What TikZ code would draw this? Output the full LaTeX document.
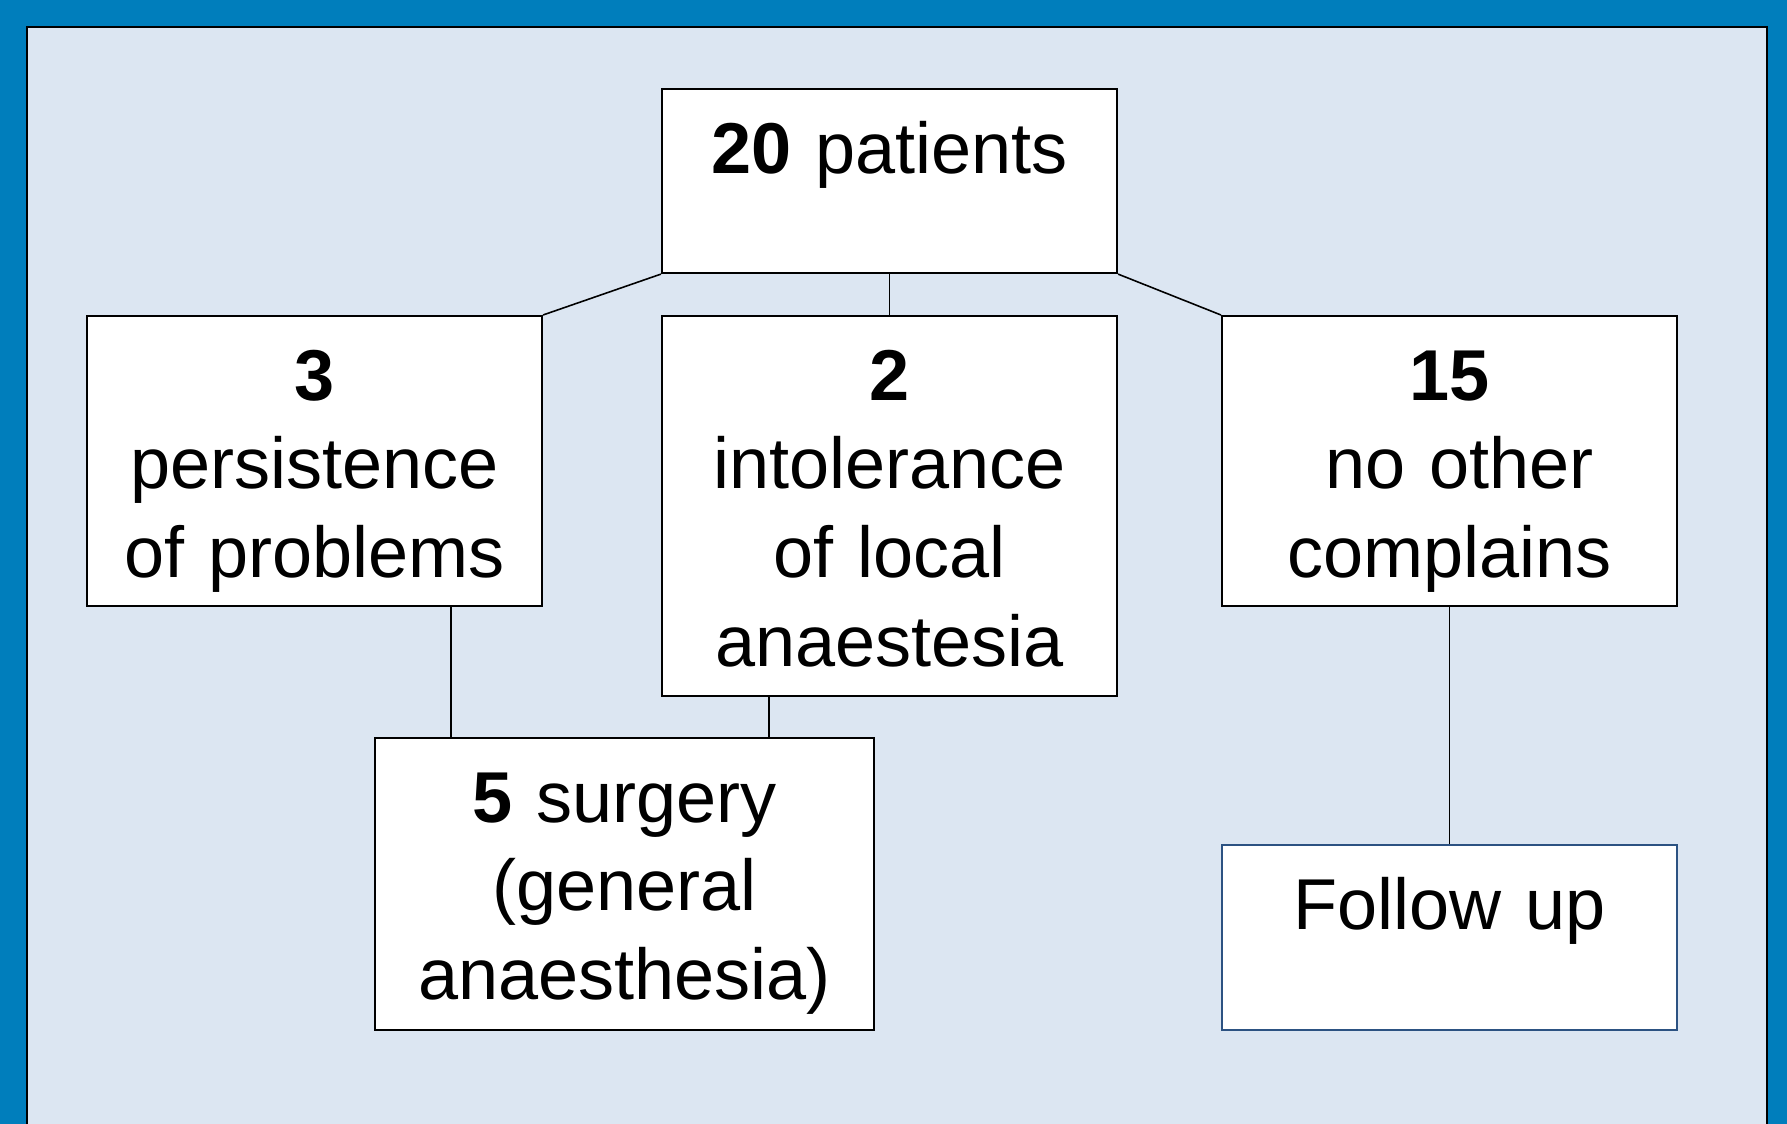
\documentclass[tikz,border=0pt]{standalone}
\usepackage{fontspec}
\setmainfont{Liberation Sans}
\definecolor{frameblue}{RGB}{0,126,188}
\definecolor{panelblue}{RGB}{220,230,242}
\definecolor{outlineblue}{RGB}{44,82,130}
\tikzset{
 box/.style={draw=black,line width=0.6pt,fill=white,inner sep=0pt,anchor=north,
   minimum width=4.55cm,text width=4.55cm,align=center,text height=0.84cm,
   font=\fontsize{20.5}{25.3}\selectfont},
 link/.style={draw=black,line width=0.45pt}
}
\begin{document}
\begin{tikzpicture}
 \useasboundingbox (0,0) rectangle (17.87,-11.24);
 \fill[frameblue] (0,0) rectangle (17.87,-11.24);
 \draw[fill=panelblue,line width=0.7pt] (0.27,-0.27) rectangle (17.67,-11.40);
 \node[box,text depth=1.00cm] (total) at (8.895,-0.88) {\textbf{20} patients};
 \node[box,text depth=2.06cm] (persist) at (3.145,-3.15) {\textbf{3}\\persistence\\of problems};
 \node[box,text depth=2.96cm] (intol) at (8.895,-3.15) {\textbf{2}\\intolerance\\of local\\anaestesia};
 \node[box,text depth=2.06cm] (nocompl) at (14.495,-3.15) {\textbf{15}\\\hspace*{0.2cm}no other\\complains};
 \node[box,text depth=2.08cm,minimum width=4.99cm,text width=4.99cm] (surgery) at (6.245,-7.37) {\textbf{5} surgery\\(general\\anaesthesia)};
 \node[box,draw=outlineblue,line width=0.7pt,text depth=1.01cm] (follow) at (14.495,-8.44) {Follow up};
 \draw[link] (total.south west) -- (persist.north east);
 \draw[link] (total.south) -- (intol.north);
 \draw[link] (total.south east) -- (nocompl.north west);
 \draw[link] ([xshift=1.365cm]persist.south) -- ([xshift=1.365cm]persist.south |- surgery.north);
 \draw[link] ([xshift=-1.205cm]intol.south) -- ([xshift=-1.205cm]intol.south |- surgery.north);
 \draw[link] (nocompl.south) -- (follow.north);
\end{tikzpicture}
\end{document}
